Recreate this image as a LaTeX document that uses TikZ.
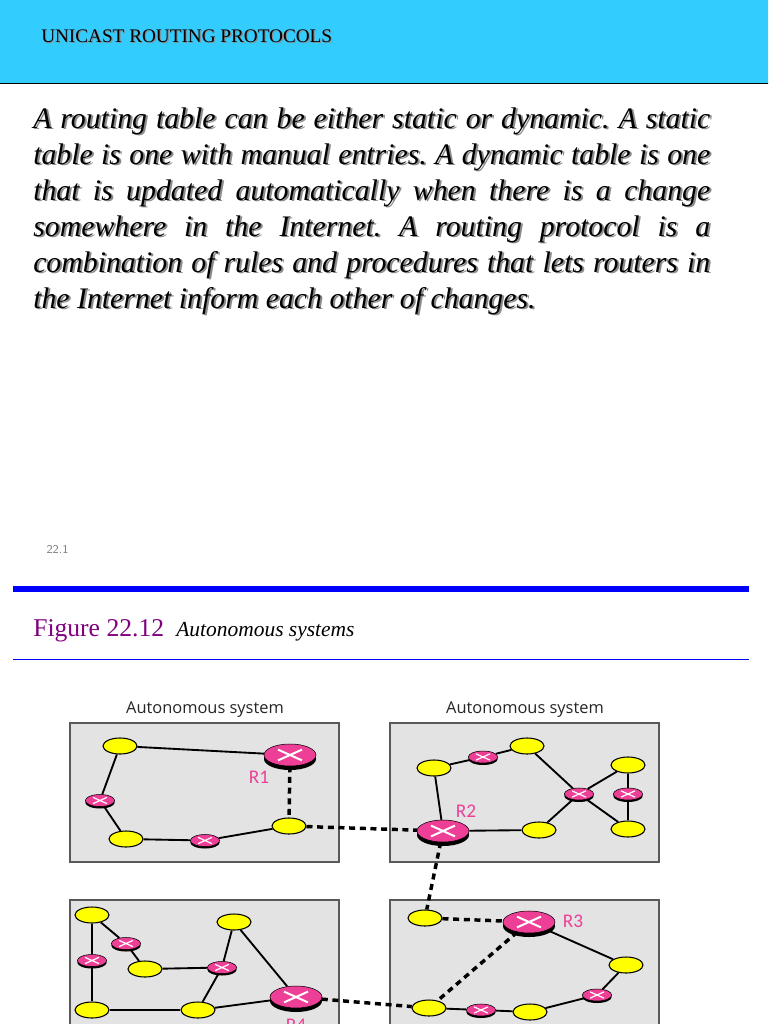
\documentclass[tikz,border=0pt]{standalone}
\usepackage{fontspec}
\usepackage{xcolor}
\usetikzlibrary{calc,shapes.geometric,shadows}
\setmainfont{Liberation Serif}
\newfontfamily\labelfont{Open Sans}
\newfontfamily\tagfont{Carlito}
\definecolor{myheader}{HTML}{33CCFF}
\definecolor{mypanel}{HTML}{E3E3E3}
\definecolor{myrouter}{HTML}{EE3F97}
\definecolor{myyellow}{HTML}{FFFF00}
\definecolor{mypurple}{HTML}{800080}
\definecolor{myrule}{HTML}{0000FF}
\newcommand{\bodytext}{A routing table can be either static or dynamic. A static\linebreak
table is one with manual entries. A dynamic table is one\linebreak
that is updated automatically when there is a change\linebreak
somewhere in the Internet. A routing protocol is a\linebreak
combination of rules and procedures that lets routers in\linebreak
the Internet inform each other of changes.}
\newcommand{\routercross}[2]{\draw[white,line width=#2]
	($(path picture bounding box.center)+(-#1,-#1*0.45)$) -- ($(path picture bounding box.center)+(#1,#1*0.45)$)
	($(path picture bounding box.center)+(-#1,#1*0.45)$) -- ($(path picture bounding box.center)+(#1,-#1*0.45)$);}
\frenchspacing

\begin{document}
\begin{tikzpicture}[
		x=0.75pt,
		y=-0.75pt,
		line cap=butt,
		panel/.style={draw=black!65,fill=mypanel,line width=1pt},
		host/.style={ellipse,draw=black,fill=myyellow,line width=0.8pt,minimum width=25.5pt,minimum height=12pt,inner sep=0pt},
		router/.style={ellipse,draw=black,fill=myrouter,line width=0.4pt,minimum width=39pt,minimum height=16.5pt,inner sep=0pt,
			general shadow={fill=black,shadow xshift=0pt,shadow yshift=-3pt},
			path picture={\routercross{12}{1.5pt}}},
		smallrouter/.style={ellipse,draw=black,fill=myrouter,line width=0.4pt,minimum width=22pt,minimum height=9pt,inner sep=0pt,
			general shadow={fill=black,shadow xshift=0pt,shadow yshift=-1.5pt},
			path picture={\routercross{7}{0.9pt}}},
		link/.style={line width=1.4pt,draw=black},
		aslink/.style={line width=2.6pt,draw=black,dash pattern=on 4.5pt off 3.5pt},
		astitle/.style={font=\labelfont\fontsize{12.3}{14}\selectfont,text=black!85,inner sep=0pt},
		routertag/.style={font=\tagfont\fontsize{14.5}{16}\selectfont,text=myrouter,inner sep=0pt},
		bodybox/.style={anchor=north west,inner sep=0pt,text width=507.75pt,align=justify,font=\itshape\fontsize{22.35}{27}\selectfont}
	]
	
	% Page size
	\useasboundingbox (0,0) rectangle (768,1024);
	\clip (0,0) rectangle (768,1024);
	\fill[white] (0,0) rectangle (768,1024);
	
	% Header band
	\draw[fill=myheader,draw=black,line width=0.6pt] (-2,-2) rectangle (770,83);
	\node[anchor=west,inner sep=0pt,text=black!45,font=\fontsize{14.4}{16}\selectfont] (headshadow) at (42.2,37.2) {UNICAST ROUTING PROTOCOLS};
	\node[anchor=west,inner sep=0pt,font=\fontsize{14.4}{16}\selectfont] (headtitle) at (41,36) {UNICAST ROUTING PROTOCOLS};
	
	% Body paragraph
	\node[bodybox,text=black!45] (bodyshadow) at (35,109) {\bodytext};
	\node[bodybox] (body) at (33,107.5) {\bodytext};
	
	% Slide number
	\node[font=\sffamily\fontsize{9}{10}\selectfont,text=black!50,inner sep=0pt] (slideno) at (57.5,549) {22.1};
	
	% Figure heading
	\fill[myrule] (13,586) rectangle (749,592);
	\fill[myrule] (13,659) rectangle (749,660);
	\node[anchor=base west,inner sep=0pt,text=mypurple,font=\fontsize{19.2}{21}\selectfont] (figno) at (33,636) {Figure 22.12};
	\node[anchor=base west,inner sep=0pt,font=\itshape\fontsize{16.1}{18}\selectfont] (figname) at (176,636) {Autonomous systems};
	
	% Panel boxes
	\draw[panel] (70,723) rectangle (339,862);
	\draw[panel] (390,723) rectangle (659,862);
	\draw[panel] (70,900) rectangle (339,1040);
	\draw[panel] (390,900) rectangle (659,1040);
	
	% Panel titles
	\node[astitle] (astitle1) at (205,710) {Autonomous system};
	\node[astitle] (astitle2) at (525,710) {Autonomous system};
	
	% Top left system
	\node[router] (r1) at (290,755) {};
	\node[host] (a1) at (120,746) {};
	\node[smallrouter] (a2) at (100,800.5) {};
	\node[host] (a3) at (126,839) {};
	\node[smallrouter] (a4) at (205,840.5) {};
	\node[host] (a5) at (289,826) {};
	\node[routertag] (r1tag) at (259,777) {R1};
	\draw[link] (a1) -- (r1);
	\draw[link] (a1) -- (a2);
	\draw[link] (a2) -- (a3);
	\draw[link] (a3) -- (a4);
	\draw[link] (a4) -- (a5);
	
	% Top right system
	\node[router] (r2) at (443,831) {};
	\node[host] (b1) at (434,768) {};
	\node[smallrouter] (b2) at (483,757) {};
	\node[host] (b3) at (527,746) {};
	\node[smallrouter] (b4) at (579,794) {};
	\node[host] (b5) at (628,765) {};
	\node[smallrouter] (b6) at (628,794) {};
	\node[host] (b7) at (628,829) {};
	\node[host] (b8) at (539,830) {};
	\node[routertag] (r2tag) at (466,811) {R2};
	\draw[link] (b1) -- (r2);
	\draw[link] (b1) -- (b2);
	\draw[link] (b2) -- (b3);
	\draw[link] (b3) -- (b4);
	\draw[link] (b4) -- (b5);
	\draw[link] (b4) -- (b7);
	\draw[link] (b4) -- (b8);
	\draw[link] (b5) -- (b6);
	\draw[link] (b6) -- (b7);
	\draw[link] (r2) -- (b8);
	
	% Bottom left system
	\node[router] (r4) at (296,997) {};
	\node[host] (c1) at (92,915) {};
	\node[smallrouter] (c2) at (126,943.5) {};
	\node[smallrouter] (c3) at (92,960.5) {};
	\node[host] (c4) at (145,969) {};
	\node[smallrouter] (c5) at (222,967.5) {};
	\node[host] (c6) at (234,922) {};
	\node[host] (c7) at (92,1010) {};
	\node[host] (c8) at (198,1010) {};
	\node[routertag] (r4tag) at (296,1025) {R4};
	\draw[link] (c1) -- (c2);
	\draw[link] (c1) -- (c3);
	\draw[link] (c2) -- (c4);
	\draw[link] (c3) -- (c7);
	\draw[link] (c4) -- (c5);
	\draw[link] (c5) -- (c6);
	\draw[link] (c5) -- (c8);
	\draw[link] (c6) -- (r4);
	\draw[link] (c7) -- (c8);
	\draw[link] (c8) -- (r4);
	
	% Bottom right system
	\node[router] (r3) at (529,922) {};
	\node[host] (d1) at (425,918) {};
	\node[host] (d2) at (626,965) {};
	\node[smallrouter] (d3) at (597,995) {};
	\node[host] (d4) at (530,1012) {};
	\node[smallrouter] (d5) at (481,1010) {};
	\node[host] (d6) at (429,1008) {};
	\node[routertag] (r3tag) at (573,921) {R3};
	\draw[link] (r3) -- (d2);
	\draw[link] (d2) -- (d3);
	\draw[link] (d3) -- (d4);
	\draw[link] (d4) -- (d5);
	\draw[link] (d5) -- (d6);
	
	% Dashed links
	\draw[aslink] (r1) -- (a5);
	\draw[aslink] (a5) -- (r2);
	\draw[aslink] (r2) -- (d1);
	\draw[aslink] (d1) -- (r3);
	\draw[aslink] (r3) -- (d6);
	\draw[aslink] (r4) -- (d6);
	
\end{tikzpicture}
\end{document}
